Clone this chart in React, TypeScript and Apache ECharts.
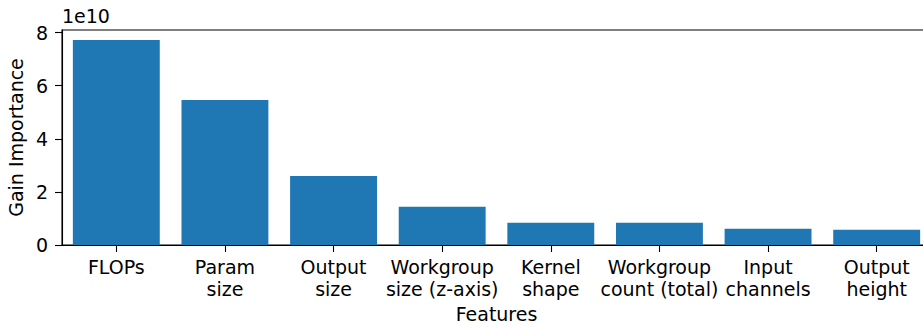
import React, { useEffect, useRef } from "react";
import * as echarts from "echarts";

// Feature importance (gain), sorted descending
const features = [
  "FLOPs",
  "Param\nsize",
  "Output\nsize",
  "Workgroup\nsize (z-axis)",
  "Kernel\nshape",
  "Workgroup\ncount (total)",
  "Input\nchannels",
  "Output\nheight",
];
const gainImportance = [7.72e10, 5.46e10, 2.6e10, 1.44e10, 0.84e10, 0.84e10, 0.61e10, 0.575e10];
const yTicks = [0, 2e10, 4e10, 6e10, 8e10];
const yMax = 8.1e10;
const scaleLabel = "1e10";

const FONT = "DejaVu Sans";
const FS = 19;

export default function App() {
  const ref = useRef<HTMLDivElement>(null);

  useEffect(() => {
    if (!ref.current) return;
    const chart = echarts.init(ref.current, undefined, { renderer: "svg" });
    chart.setOption({
      animation: false,
      backgroundColor: "#ffffff",
      textStyle: { fontFamily: FONT, color: "#000" },
      grid: {
        show: true,
        borderColor: "#000",
        borderWidth: 1.1,
        left: 62,
        top: 30,
        width: 869,
        height: 215,
        containLabel: false,
        outerBoundsMode: "none",
      },
      graphic: [
        {
          type: "text",
          left: 62,
          top: 6,
          style: { text: scaleLabel, font: `${FS}px "${FONT}"`, fill: "#000" },
        },
      ],
      xAxis: {
        type: "category",
        data: features,
        boundaryGap: true,
        name: "Features",
        nameLocation: "middle",
        nameGap: 58,
        nameTextStyle: { fontFamily: FONT, fontSize: FS, color: "#000" },
        axisLine: { show: true, lineStyle: { color: "#000", width: 1.1 } },
        axisTick: { show: true, alignWithLabel: true, length: 7, lineStyle: { color: "#000", width: 1.1 } },
        axisLabel: {
          interval: 0,
          margin: 11,
          fontFamily: FONT,
          fontSize: FS,
          color: "#000",
          lineHeight: 22,
        },
        splitLine: { show: false },
      },
      yAxis: {
        type: "value",
        min: 0,
        max: yMax,
        name: "Gain Importance",
        nameLocation: "middle",
        nameGap: 33,
        nameTextStyle: { fontFamily: FONT, fontSize: FS, color: "#000" },
        axisLine: { show: true, lineStyle: { color: "#000", width: 1.1 } },
        axisTick: { show: true, length: 7, customValues: yTicks, lineStyle: { color: "#000", width: 1.1 } },
        axisLabel: {
          customValues: yTicks,
          margin: 14,
          fontFamily: FONT,
          fontSize: FS,
          color: "#000",
          formatter: (v: number) => String(Math.round(v / 1e10)),
        },
        splitLine: { show: false },
      },
      series: [
        {
          type: "bar",
          data: gainImportance,
          barWidth: "80%",
          itemStyle: { color: "#1f77b4" },
        },
      ],
    });
    return () => chart.dispose();
  }, []);

  return (
    <div
      style={{
        position: "absolute",
        left: 0,
        top: 0,
        width: 923,
        height: 324,
        overflow: "hidden",
        background: "#fff",
      }}
    >
      <div ref={ref} style={{ width: 960, height: 324 }} />
    </div>
  );
}
